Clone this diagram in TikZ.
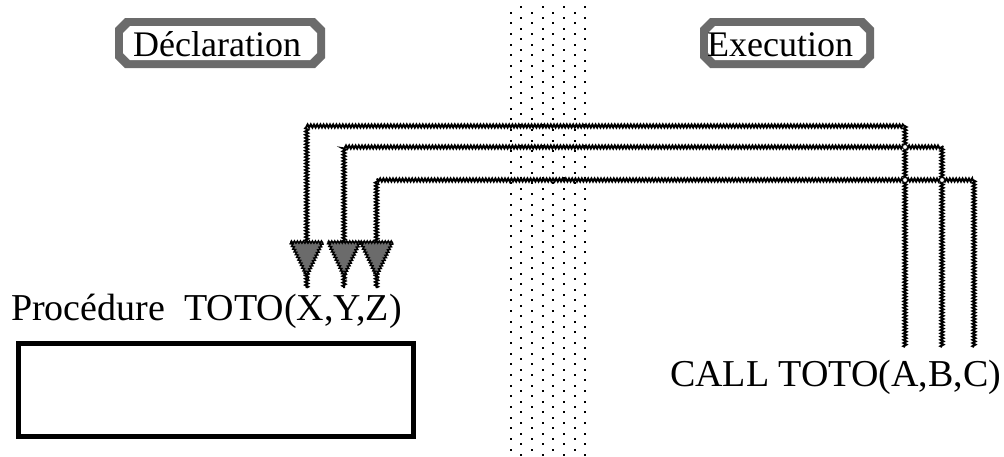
\documentclass[tikz,border=0pt]{standalone}
\usepackage{fontspec}
\setmainfont{Liberation Serif}
\usetikzlibrary{decorations.pathmorphing}
\newcommand\octopath[5]{(#1+#5,#2) -- (#3-#5,#2) -- (#3,#2+#5) -- (#3,#4-#5) -- (#3-#5,#4) -- (#1+#5,#4) -- (#1,#4-#5) -- (#1,#2+#5) -- cycle}
\definecolor{checker}{gray}{0.42}
\tikzset{
  wire/.style={line width=2pt, decorate, decoration={zigzag, segment length=3.2pt, amplitude=1.5pt}},
  tipfill/.style={fill=checker, draw, line width=1.4pt, decorate, decoration={zigzag, segment length=3pt, amplitude=1.2pt}},
  bigtext/.style={font=\fontsize{38}{44}\selectfont, inner sep=0pt, anchor=base west},
  calltext/.style={font=\fontsize{38}{44}\selectfont, inner sep=0pt, anchor=base west},
  badgetext/.style={font=\fontsize{36}{42}\selectfont, inner sep=0pt, anchor=base west},
  badgeframe/.style={fill=checker},
  bridge/.style={circle, draw, fill=white, line width=0.8pt, inner sep=0pt, minimum size=5pt},
  dotcell/.style={fill=black}
}
\begin{document}
\begin{tikzpicture}[x=1pt,y=-1pt]
\useasboundingbox (0,0) rectangle (1004,456);
\fill[white] (0,0) rectangle (1004,456);
% dotted band
\foreach \r in {0,...,84}{
  \foreach \k in {0,...,3}{
    \pgfmathsetmacro\xx{521.3-10.67*mod(\r,2)+21.33*\k}
    \pgfmathsetmacro\yy{7.3+5.33*\r}
    \fill[dotcell] (\xx-1,\yy-1) rectangle (\xx+1,\yy+1);
  }
}
% badges
\fill[badgeframe] \octopath{115}{18}{325}{68}{10};
\fill[white] \octopath{123}{26}{317}{60}{7};
\node[badgetext] (decl) at (133,56.7) {Déclaration};
\fill[badgeframe] \octopath{700}{18}{874}{68}{10};
\fill[white] \octopath{708}{26}{866}{60}{7};
\node[badgetext] (exec) at (707,56.7) {Execution};
% texts
\node[bigtext] (proc) at (11,320) {Procédure\ \ TOTO(X,Y,Z)};
\node[calltext] (call) at (670,386.7) {CALL TOTO(A,B,C)};
\node[draw, line width=5pt, minimum width=395pt, minimum height=93pt, inner sep=0pt] (body) at (216,390) {};
% connector ends
\coordinate (c1) at (905,347);
\coordinate (c2) at (942,347);
\coordinate (c3) at (974,347);
\coordinate (p1) at (306.7,288);
\coordinate (p2) at (344,288);
\coordinate (p3) at (376.5,288);
\draw[wire] (c1) -- ++(0,-221) -| (p1);
\draw[wire] (c2) -- ++(0,-200) -| (p2);
\draw[wire] (c3) -- ++(0,-167) -| (p3);
% bridges
\node[bridge] (b1) at (905,147) {};
\node[bridge] (b2) at (905,180) {};
\node[bridge] (b3) at (942,180) {};
% arrowheads
\foreach \p in {p1,p2,p3}{
  \draw[tipfill, shift={(\p)}] (-16,-46) -- (16,-46) -- (0,-12) -- cycle;
}
\end{tikzpicture}
\end{document}
